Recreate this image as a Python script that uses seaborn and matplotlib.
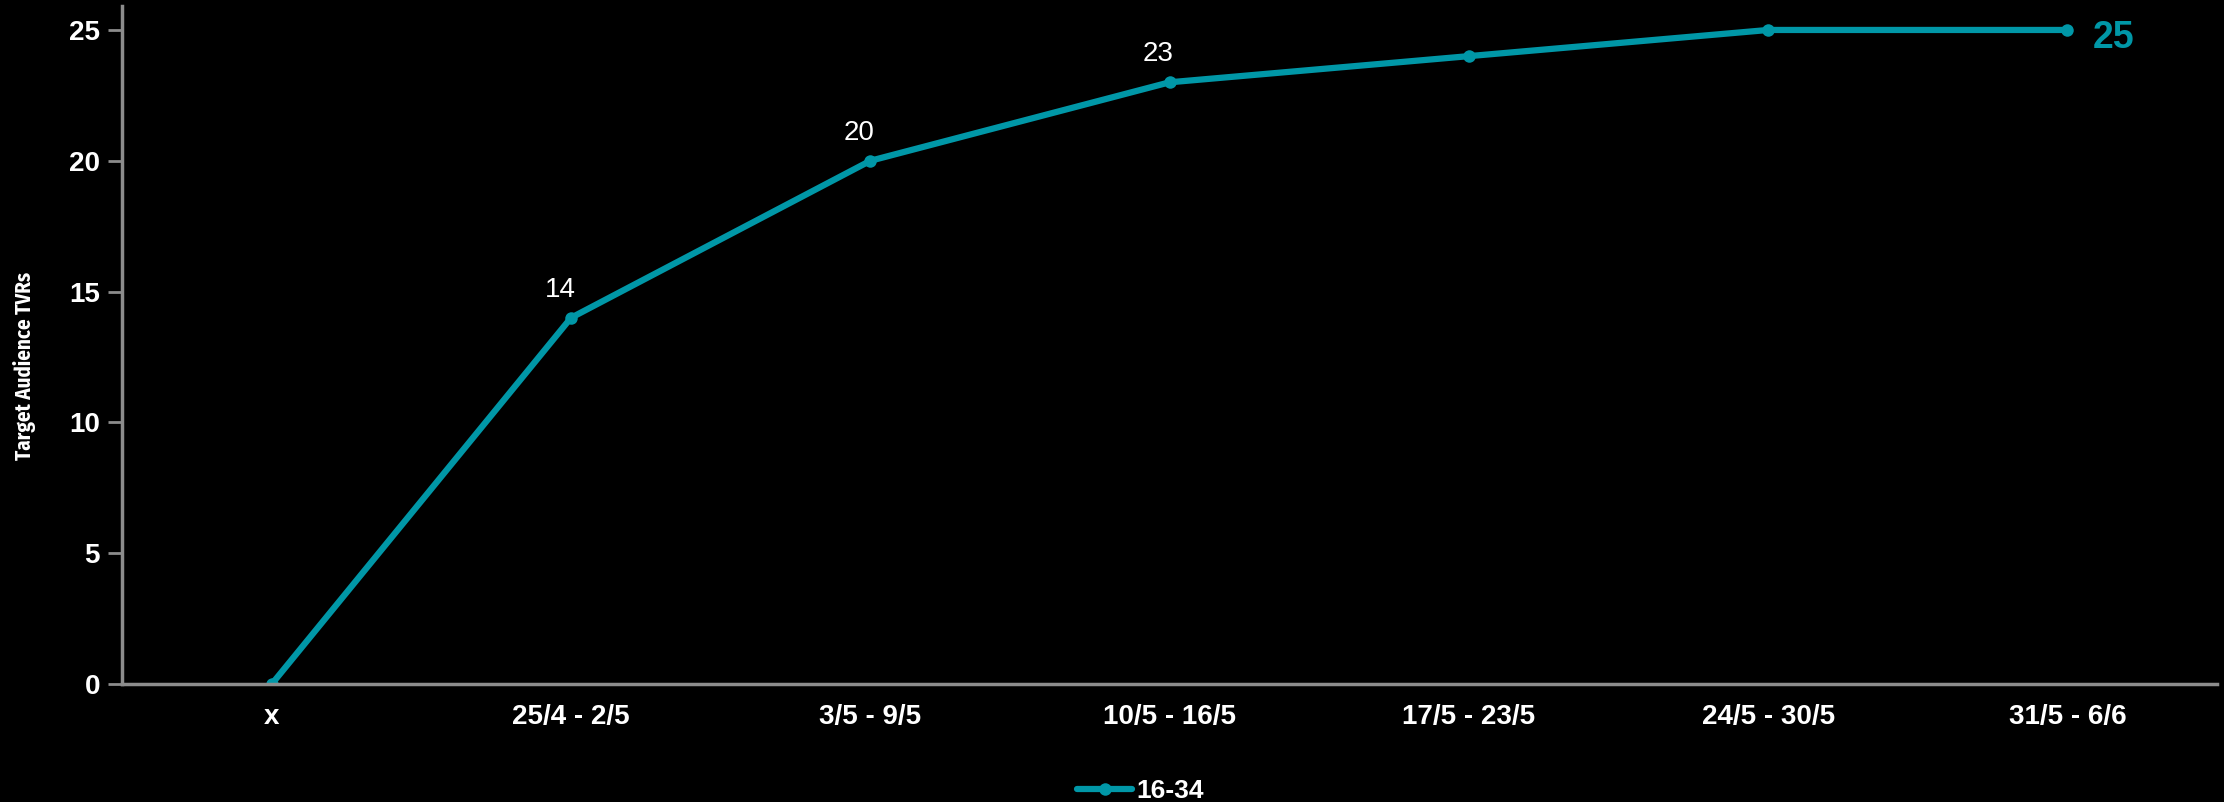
import matplotlib
matplotlib.use("Agg")
import matplotlib.pyplot as plt
import seaborn as sns
import pandas as pd
import numpy as np

weeks = ["x", "25/4 - 2/5", "3/5 - 9/5", "10/5 - 16/5", "17/5 - 23/5", "24/5 - 30/5", "31/5 - 6/6"]
tvrs = [0, 14, 20, 23, 24, 25, 25]
labelled = [1, 2, 3]          # points with a white value label above
series_name = "16-34"
yticks = [0, 5, 10, 15, 20, 25]

teal = "#0097a7"
axis_grey = "#8c8c8c"

sns.set_theme(style="dark")
plt.rcParams["font.family"] = ["Liberation Sans", "DejaVu Sans"]

df = pd.DataFrame({"pos": np.arange(len(weeks)), "tvr": tvrs, "series": series_name})

fig = plt.figure(figsize=(22.24, 8.02), dpi=100, facecolor="black")
ax = fig.add_axes([0.0549, 0.147, 0.942, 0.845])
ax.set_facecolor("black")

sns.lineplot(data=df, x="pos", y="tvr", hue="series", palette=[teal], marker="o",
             markersize=9, markeredgewidth=0, linewidth=4.5, ax=ax)

ax.set_xlim(-0.5, len(weeks) - 0.5)
ax.set_ylim(0, 25.9)
ax.grid(False)

ax.set_xticks(np.arange(len(weeks)))
ax.set_xticklabels(weeks, color="white", fontsize=20, fontweight="bold")
ax.set_xticks(np.arange(len(weeks) + 1) - 0.5, minor=True)
ax.tick_params(axis="x", which="major", length=0, pad=14)
ax.tick_params(axis="x", which="minor", length=8, width=2, color=axis_grey, direction="out")

ax.set_yticks(yticks)
ax.set_yticklabels([str(v) for v in yticks], color="white", fontsize=20, fontweight="bold")
ax.tick_params(axis="y", length=10, width=2, color=axis_grey, direction="out", pad=6, left=True)

for side in ["top", "right"]:
    ax.spines[side].set_visible(False)
for side in ["left", "bottom"]:
    ax.spines[side].set_visible(True)
    ax.spines[side].set_color(axis_grey)
    ax.spines[side].set_linewidth(2.5)

ax.set_xlabel("")
ax.set_ylabel("Target Audience TVRs", color="white", fontsize=15, fontweight="bold",
              family=["Liberation Sans Narrow", "Fira Sans Condensed", "DejaVu Sans"])
ax.yaxis.set_label_coords(-0.041, 0.47)

for i in labelled:
    ax.annotate(str(tvrs[i]), (i, tvrs[i]), xytext=(-8, 11), textcoords="offset points",
                ha="center", va="bottom", color="white", fontsize=20)

last = len(tvrs) - 1
ax.annotate(str(tvrs[last]), (last, tvrs[last]), xytext=(18, -6), textcoords="offset points",
            ha="left", va="center", color=teal, fontsize=27, fontweight="bold")

leg = ax.legend(loc="center", bbox_to_anchor=(0.486, -0.158), frameon=False,
                fontsize=19, handlelength=2.1, handletextpad=0.15)
for t in leg.get_texts():
    t.set_color("white")
    t.set_fontweight("bold")

fig.savefig("out.png", dpi=100, facecolor="black")
